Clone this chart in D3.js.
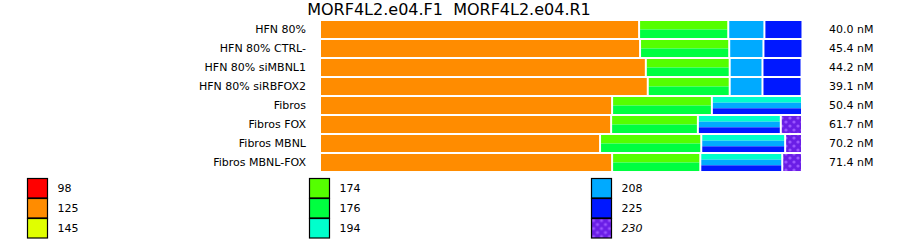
<!DOCTYPE html>
<html>
<head>
<meta charset="utf-8">
<script src="https://cdn.jsdelivr.net/npm/d3@7"></script>
<style>
body { margin: 0; background: #fff; }
svg { display: block; font-family: "DejaVu Sans", sans-serif; }
</style>
</head>
<body>
<svg id="svg1" width="900" height="242"></svg>
<script>
var title = "MORF4L2.e04.F1  MORF4L2.e04.R1";

var samples = ["HFN 80%", "HFN 80% CTRL-", "HFN 80% siMBNL1", "HFN 80% siRBFOX2",
	"Fibros", "Fibros FOX", "Fibros MBNL", "Fibros MBNL-FOX"];
var concentrations = ["40.0 nM", "45.4 nM", "44.2 nM", "39.1 nM", "50.4 nM", "61.7 nM", "70.2 nM", "71.4 nM"];

// percentage of each peak group per sample
var pct125 = [66.2, 66.4, 67.6, 68.0, 60.6, 60.4, 58.1, 60.6];
var pct174_176 = [18.5, 18.5, 17.4, 17.0, 20.7, 18.0, 21.0, 18.3];
var pct208 = [7.5, 7.1, 6.8, 6.8, 0, 0, 0, 0];
var pct225 = [7.9, 8.1, 8.1, 8.1, 0, 0, 0, 0];
var pct194_208_225 = [0, 0, 0, 0, 18.7, 17.2, 17.4, 17.0];
var pct230 = [0, 0, 0, 0, 0, 4.4, 3.5, 4.1];

// legend sizes
var sizes = ["98", "125", "145", "174", "176", "194", "208", "225", "230"];
var sizeColors = ["#ff0000", "#ff8c00", "#e0ff00", "#55ff00", "#00ff40", "#00ffcc", "#00aaff", "#0018ff", "url(#pat230)"];

var groups = [
	{key: "g125", sizes: ["125"], values: pct125},
	{key: "g174", sizes: ["174", "176"], values: pct174_176},
	{key: "g208", sizes: ["208"], values: pct208},
	{key: "g225", sizes: ["225"], values: pct225},
	{key: "g194", sizes: ["194", "208", "225"], values: pct194_208_225},
	{key: "g230", sizes: ["230"], values: pct230}
];

var svg1 = d3.select("#svg1");
var color = d3.scaleOrdinal().domain(sizes).range(sizeColors);

// purple dotted pattern for 230
var pat = svg1.append("defs").append("pattern")
	.attr("id", "pat230")
	.attr("patternUnits", "userSpaceOnUse")
	.attr("width", 8).attr("height", 8);
pat.append("rect").attr("width", 8).attr("height", 8).attr("fill", "#6a1ee6");
pat.append("circle").attr("cx", 2).attr("cy", 2).attr("r", 1.6).attr("fill", "#9a55ff");
pat.append("circle").attr("cx", 6).attr("cy", 6).attr("r", 1.6).attr("fill", "#9a55ff");

svg1.append("text")
	.attr("x", 449)
	.attr("y", 15)
	.attr("text-anchor", "middle")
	.attr("font-size", 16)
	.style("white-space", "pre")
	.text(title);

var x = d3.scaleLinear().domain([0, 100]).range([321, 803]);
var y = d3.scaleBand()
	.domain(samples)
	.range([20, 172])
	.paddingInner(2 / 19)
	.paddingOuter(1 / 19);

// table for stacking
var table = samples.map(function(s, i) {
	var row = {sample: s};
	groups.forEach(function(g) { row[g.key] = g.values[i]; });
	return row;
});
var stack = d3.stack().keys(groups.map(function(g) { return g.key; }))(table);

var layer = svg1.append("g").selectAll("g")
	.data(stack)
	.enter().append("g");

layer.each(function(series, gi) {
	var g = groups[gi];
	var n = g.sizes.length;
	d3.select(this).selectAll("g")
		.data(series.filter(function(d) { return d[1] - d[0] > 0; }))
		.enter().append("g")
		.selectAll("rect")
		.data(function(d) {
			return g.sizes.map(function(s, k) { return {size: s, k: k, d: d}; });
		})
		.enter().append("rect")
		.attr("x", function(e) { return x(e.d[0]); })
		.attr("width", function(e) { return x(e.d[1]) - x(e.d[0]) - 2; })
		.attr("y", function(e) { return y(e.d.data.sample) + y.bandwidth() * e.k / n; })
		.attr("height", y.bandwidth() / n + 0.01)
		.attr("fill", function(e) { return color(e.size); });
});

// sample labels
svg1.append("g").selectAll("text")
	.data(samples)
	.enter().append("text")
	.attr("x", 306)
	.attr("y", function(d) { return y(d) + y.bandwidth() / 2; })
	.attr("dy", "0.35em")
	.attr("text-anchor", "end")
	.attr("font-size", 11)
	.text(function(d) { return d; });

// concentrations
svg1.append("g").selectAll("text")
	.data(concentrations)
	.enter().append("text")
	.attr("x", 829)
	.attr("y", function(d, i) { return y(samples[i]) + y.bandwidth() / 2; })
	.attr("dy", "0.35em")
	.attr("font-size", 11)
	.text(function(d) { return d; });

// legend
var legend = svg1.append("g").selectAll("g")
	.data(sizes)
	.enter().append("g")
	.attr("transform", function(d, i) {
		return "translate(" + (27.5 + Math.floor(i / 3) * 282) + "," + (178.5 + (i % 3) * 20) + ")";
	});

legend.append("rect")
	.attr("width", 20)
	.attr("height", 19.5)
	.attr("fill", function(d) { return color(d); })
	.attr("stroke", "#000")
	.attr("stroke-width", 1.2);

legend.append("text")
	.attr("x", 30)
	.attr("y", 10)
	.attr("dy", "0.35em")
	.attr("font-size", 11)
	.attr("font-style", function(d) { return d == "230" ? "italic" : null; })
	.text(function(d) { return d; });
</script>
</body>
</html>
